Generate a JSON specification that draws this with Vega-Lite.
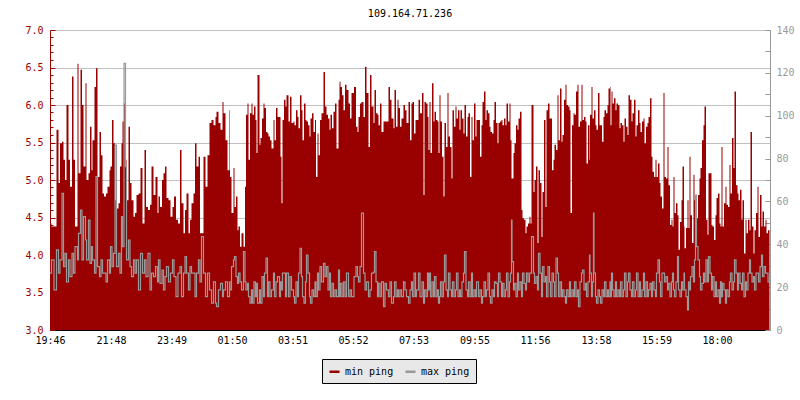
{
"$schema": "https://vega.github.io/schema/vega-lite/v6.json",
"width": 720, "height": 300,
"autosize": {"type": "none"},
"padding": {"left": 50, "top": 30, "right": 30, "bottom": 70},
"background": "white",
"title": {"text": "109.164.71.236", "font": "DejaVu Sans Mono", "fontSize": 10, "fontWeight": "normal", "color": "#000000", "anchor": "middle", "frame": "group", "offset": 6},
"data": {"values": [
{"t":0,"a":4.42,"b":26.5},{"t":3,"a":4.38,"b":32.7},{"t":8,"a":4.38,"b":18.7},{"t":13,"a":5.67,"b":37.4},{"t":17,"a":4.96,"b":26.5},{"t":20,"a":5.49,"b":32.7},{"t":24,"a":5.51,"b":63.8},{"t":27,"a":5.27,"b":29.6},{"t":30,"a":5.0,"b":35.8},{"t":33,"a":6.0,"b":22.5},{"t":37,"a":5.27,"b":32.7},{"t":40,"a":4.91,"b":24.9},{"t":44,"a":6.38,"b":35.8},{"t":47,"a":5.27,"b":26.5},{"t":50,"a":4.38,"b":38.9},{"t":55,"a":6.55,"b":32.7},{"t":57,"a":5.09,"b":45.1},{"t":61,"a":6.47,"b":56},{"t":64,"a":6.0,"b":32.7},{"t":67,"a":5.18,"b":52.9},{"t":71,"a":6.29,"b":42},{"t":73,"a":5.0,"b":32.7},{"t":77,"a":5.09,"b":51.3},{"t":80,"a":5.71,"b":31.1},{"t":83,"a":5.13,"b":38.9},{"t":85,"a":5.53,"b":32.7},{"t":89,"a":6.24,"b":26.5},{"t":92,"a":6.49,"b":71.6},{"t":95,"a":5.04,"b":29.6},{"t":99,"a":5.64,"b":24.9},{"t":102,"a":5.33,"b":32.7},{"t":105,"a":4.82,"b":26.5},{"t":108,"a":4.78,"b":26.5},{"t":112,"a":4.82,"b":22.5},{"t":115,"a":4.91,"b":32.7},{"t":119,"a":5.13,"b":26.5},{"t":121,"a":5.18,"b":38.9},{"t":124,"a":5.8,"b":29.6},{"t":127,"a":5.49,"b":35.8},{"t":130,"a":4.73,"b":86.3},{"t":133,"a":4.62,"b":29.6},{"t":137,"a":4.69,"b":35.8},{"t":140,"a":5.18,"b":26.5},{"t":143,"a":5.49,"b":52.9},{"t":145,"a":5.78,"b":38.9},{"t":148,"a":6.02,"b":124.4},{"t":151,"a":5.27,"b":76.2},{"t":153,"a":4.73,"b":32.7},{"t":157,"a":5.71,"b":42},{"t":160,"a":4.96,"b":29.6},{"t":163,"a":4.73,"b":24.9},{"t":167,"a":4.51,"b":32.7},{"t":170,"a":4.56,"b":26.5},{"t":173,"a":4.8,"b":32.7},{"t":177,"a":4.82,"b":18.7},{"t":181,"a":5.16,"b":35.8},{"t":185,"a":4.42,"b":26.5},{"t":189,"a":5.4,"b":32.7},{"t":192,"a":4.64,"b":24.9},{"t":196,"a":4.6,"b":35.8},{"t":200,"a":4.67,"b":18.7},{"t":203,"a":5.18,"b":26.5},{"t":207,"a":4.8,"b":24.9},{"t":211,"a":5.04,"b":29.6},{"t":215,"a":4.56,"b":22.5},{"t":217,"a":4.78,"b":32.7},{"t":220,"a":4.64,"b":21.8},{"t":224,"a":5.0,"b":28},{"t":227,"a":5.09,"b":18.7},{"t":230,"a":5.18,"b":24.9},{"t":233,"a":4.76,"b":29.6},{"t":237,"a":4.73,"b":22.5},{"t":241,"a":4.51,"b":26.5},{"t":245,"a":4.64,"b":32.7},{"t":248,"a":4.78,"b":24.9},{"t":252,"a":4.47,"b":15.6},{"t":256,"a":4.42,"b":26.5},{"t":260,"a":5.4,"b":29.6},{"t":263,"a":4.69,"b":15.6},{"t":267,"a":4.29,"b":26.5},{"t":270,"a":4.6,"b":34.2},{"t":273,"a":4.82,"b":26.5},{"t":277,"a":4.29,"b":18.7},{"t":280,"a":4.47,"b":29.6},{"t":283,"a":4.69,"b":26.5},{"t":287,"a":4.82,"b":26.5},{"t":290,"a":5.49,"b":15.6},{"t":293,"a":5.18,"b":26.5},{"t":297,"a":5.31,"b":32.7},{"t":300,"a":4.29,"b":22.5},{"t":303,"a":4.29,"b":43.6},{"t":307,"a":5.31,"b":26.5},{"t":311,"a":4.91,"b":15.6},{"t":315,"a":5.33,"b":26.5},{"t":319,"a":5.76,"b":18.7},{"t":323,"a":5.8,"b":12.5},{"t":327,"a":5.73,"b":22.5},{"t":331,"a":5.84,"b":12.5},{"t":333,"a":5.91,"b":10.9},{"t":337,"a":5.76,"b":18.7},{"t":341,"a":5.67,"b":21.8},{"t":345,"a":6.04,"b":15.6},{"t":347,"a":5.89,"b":18.7},{"t":351,"a":5.53,"b":22.5},{"t":355,"a":5.13,"b":15.6},{"t":359,"a":5.93,"b":22.5},
{"t":360,"a":5.04,"b":18.7},{"t":363,"a":4.56,"b":29.6},{"t":367,"a":5.16,"b":32.7},{"t":369,"a":4.64,"b":34.2},{"t":372,"a":4.78,"b":24.9},{"t":375,"a":4.33,"b":21.8},{"t":377,"a":4.38,"b":26.5},{"t":380,"a":4.11,"b":22.5},{"t":383,"a":4.29,"b":18.7},{"t":387,"a":4.11,"b":36.6},{"t":390,"a":4.91,"b":22.5},{"t":392,"a":5.87,"b":18.7},{"t":395,"a":6.02,"b":21.8},{"t":397,"a":5.27,"b":15.6},{"t":400,"a":5.89,"b":12.5},{"t":403,"a":6.02,"b":18.7},{"t":405,"a":5.87,"b":12.5},{"t":408,"a":5.98,"b":22.5},{"t":411,"a":5.8,"b":15.6},{"t":413,"a":5.36,"b":21.8},{"t":415,"a":6.4,"b":12.5},{"t":419,"a":5.47,"b":18.7},{"t":421,"a":5.56,"b":12.5},{"t":424,"a":5.82,"b":24.9},{"t":427,"a":6.02,"b":15.6},{"t":429,"a":5.96,"b":26.5},{"t":432,"a":5.64,"b":33.5},{"t":435,"a":5.62,"b":15.6},{"t":437,"a":5.58,"b":22.5},{"t":440,"a":5.53,"b":15.6},{"t":443,"a":5.42,"b":18.7},{"t":447,"a":5.8,"b":26.5},{"t":449,"a":5.53,"b":15.6},{"t":452,"a":5.96,"b":22.5},{"t":455,"a":5.84,"b":24.9},{"t":459,"a":5.84,"b":15.6},{"t":461,"a":5.31,"b":22.5},{"t":463,"a":4.69,"b":18.7},{"t":465,"a":5.8,"b":26.5},{"t":468,"a":6.07,"b":26.5},{"t":471,"a":5.98,"b":15.6},{"t":473,"a":6.13,"b":26.5},{"t":477,"a":5.78,"b":15.6},{"t":480,"a":6.11,"b":24.9},{"t":483,"a":5.76,"b":18.7},{"t":487,"a":5.78,"b":15.6},{"t":489,"a":5.73,"b":12.5},{"t":492,"a":5.93,"b":22.5},{"t":495,"a":5.84,"b":15.6},{"t":497,"a":5.69,"b":26.5},{"t":500,"a":6.13,"b":38.1},{"t":503,"a":5.93,"b":24.9},{"t":505,"a":5.53,"b":15.6},{"t":508,"a":6.02,"b":12.5},{"t":511,"a":5.8,"b":22.5},{"t":513,"a":5.78,"b":35.0},{"t":516,"a":5.73,"b":26.5},{"t":519,"a":5.58,"b":15.6},{"t":521,"a":5.82,"b":12.5},{"t":524,"a":5.89,"b":18.7},{"t":527,"a":5.64,"b":15.6},{"t":530,"a":5.8,"b":22.5},{"t":532,"a":5.04,"b":15.6},{"t":535,"a":5.62,"b":26.5},{"t":537,"a":5.33,"b":18.7},{"t":540,"a":5.8,"b":29.6},{"t":543,"a":5.89,"b":22.5},{"t":547,"a":6.44,"b":31.1},{"t":550,"a":5.98,"b":24.9},{"t":553,"a":5.87,"b":29.6},{"t":556,"a":5.82,"b":18.7},{"t":559,"a":5.67,"b":26.5},{"t":561,"a":5.87,"b":15.6},{"t":564,"a":5.69,"b":21.8},{"t":567,"a":5.91,"b":15.6},{"t":570,"a":6.02,"b":18.7},{"t":573,"a":5.42,"b":15.6},{"t":577,"a":6.07,"b":28},{"t":579,"a":6.31,"b":15.6},{"t":581,"a":6.24,"b":21.8},{"t":584,"a":6.13,"b":15.6},{"t":587,"a":5.93,"b":22.5},{"t":590,"a":6.27,"b":15.6},{"t":593,"a":6.2,"b":26.5},{"t":597,"a":6.02,"b":15.6},{"t":600,"a":5.82,"b":18.7},{"t":603,"a":6.16,"b":15.6},{"t":608,"a":6.24,"b":24.9},{"t":612,"a":5.71,"b":29.6},{"t":615,"a":5.64,"b":24.9},{"t":617,"a":5.84,"b":22.5},{"t":620,"a":6.02,"b":29.6},{"t":623,"a":6.04,"b":54.5},{"t":627,"a":5.84,"b":26.5},{"t":630,"a":6.51,"b":18.7},{"t":633,"a":6.16,"b":22.5},{"t":637,"a":5.44,"b":15.6},{"t":640,"a":6.4,"b":18.7},{"t":643,"a":5.98,"b":26.5},{"t":647,"a":5.76,"b":27},{"t":649,"a":6.2,"b":36.6},{"t":652,"a":5.89,"b":22.5},{"t":655,"a":5.87,"b":15.6},{"t":657,"a":5.73,"b":21.8},{"t":660,"a":6.02,"b":15.6},{"t":663,"a":5.64,"b":22.5},{"t":667,"a":5.78,"b":10.9},{"t":670,"a":5.78,"b":21.8},{"t":673,"a":5.78,"b":18.7},{"t":677,"a":6.24,"b":15.6},{"t":680,"a":6.07,"b":22.5},{"t":683,"a":5.82,"b":12.5},{"t":687,"a":5.69,"b":15.6},{"t":689,"a":6.2,"b":22.5},{"t":692,"a":5.71,"b":15.6},{"t":695,"a":6.07,"b":18.7},{"t":697,"a":5.96,"b":15.6},{"t":700,"a":5.71,"b":18.7},{"t":703,"a":5.82,"b":15.6},{"t":707,"a":6.0,"b":22.5},{"t":710,"a":5.93,"b":18.7},{"t":713,"a":5.76,"b":15.6},{"t":717,"a":6.04,"b":12.5},
{"t":720,"a":5.53,"b":18.7},{"t":723,"a":6.02,"b":22.5},{"t":725,"a":6.04,"b":15.6},{"t":728,"a":5.62,"b":26.5},{"t":731,"a":5.8,"b":15.6},{"t":733,"a":5.8,"b":18.7},{"t":737,"a":6.07,"b":26.5},{"t":740,"a":5.89,"b":15.6},{"t":744,"a":6.16,"b":22.5},{"t":747,"a":4.8,"b":12.5},{"t":749,"a":6.04,"b":18.7},{"t":752,"a":6.02,"b":15.6},{"t":755,"a":5.84,"b":26.5},{"t":757,"a":5.4,"b":18.7},{"t":759,"a":6.04,"b":26.5},{"t":761,"a":5.36,"b":15.6},{"t":764,"a":6.29,"b":22.5},{"t":767,"a":5.78,"b":15.6},{"t":769,"a":5.91,"b":24.9},{"t":772,"a":5.8,"b":15.6},{"t":775,"a":5.78,"b":18.7},{"t":777,"a":5.36,"b":12.5},{"t":779,"a":6.13,"b":15.6},{"t":781,"a":5.78,"b":22.5},{"t":784,"a":5.31,"b":15.6},{"t":787,"a":4.78,"b":22.5},{"t":789,"a":5.76,"b":35.0},{"t":792,"a":5.44,"b":18.7},{"t":795,"a":6.16,"b":15.6},{"t":797,"a":5.58,"b":26.5},{"t":800,"a":5.44,"b":18.7},{"t":803,"a":5.02,"b":15.6},{"t":805,"a":5.93,"b":22.5},{"t":808,"a":5.71,"b":15.6},{"t":811,"a":5.98,"b":18.7},{"t":813,"a":5.82,"b":26.5},{"t":816,"a":5.93,"b":15.6},{"t":819,"a":5.67,"b":18.7},{"t":821,"a":5.93,"b":15.6},{"t":824,"a":5.82,"b":22.5},{"t":827,"a":5.62,"b":26.5},{"t":829,"a":6.0,"b":36.6},{"t":832,"a":5.58,"b":18.7},{"t":835,"a":5.84,"b":15.6},{"t":837,"a":5.89,"b":22.5},{"t":840,"a":5.04,"b":15.6},{"t":843,"a":5.84,"b":26.5},{"t":845,"a":5.53,"b":15.6},{"t":848,"a":6.02,"b":18.7},{"t":851,"a":5.58,"b":15.6},{"t":853,"a":5.8,"b":22.5},{"t":857,"a":5.8,"b":15.6},{"t":860,"a":5.31,"b":18.7},{"t":863,"a":5.73,"b":12.5},{"t":865,"a":6.04,"b":15.6},{"t":868,"a":6.18,"b":22.5},{"t":871,"a":5.8,"b":15.6},{"t":873,"a":5.93,"b":18.7},{"t":876,"a":5.89,"b":26.5},{"t":879,"a":5.71,"b":15.6},{"t":881,"a":5.64,"b":12.5},{"t":884,"a":5.62,"b":18.7},{"t":887,"a":5.8,"b":15.6},{"t":889,"a":6.04,"b":22.5},{"t":892,"a":5.76,"b":21.8},{"t":895,"a":5.49,"b":15.6},{"t":897,"a":5.76,"b":26.5},{"t":900,"a":5.78,"b":22.5},{"t":903,"a":5.8,"b":15.6},{"t":905,"a":5.73,"b":21.8},{"t":908,"a":5.82,"b":15.6},{"t":911,"a":5.73,"b":18.7},{"t":913,"a":6.02,"b":26.5},{"t":916,"a":5.78,"b":15.6},{"t":919,"a":6.02,"b":22.5},{"t":921,"a":5.53,"b":26.5},{"t":923,"a":5.02,"b":51.3},{"t":924,"a":5.02,"b":31.9},{"t":927,"a":5.36,"b":18.7},{"t":929,"a":5.49,"b":21.8},{"t":932,"a":5.73,"b":15.6},{"t":935,"a":5.67,"b":26.5},{"t":937,"a":5.82,"b":18.7},{"t":940,"a":5.91,"b":22.5},{"t":943,"a":4.6,"b":15.6},{"t":945,"a":4.49,"b":26.5},{"t":948,"a":4.47,"b":21.8},{"t":951,"a":4.29,"b":18.7},{"t":953,"a":4.38,"b":26.5},{"t":956,"a":4.42,"b":22.5},{"t":959,"a":4.51,"b":26.5},{"t":961,"a":4.42,"b":26.5},{"t":963,"a":6.0,"b":43.6},{"t":967,"a":4.84,"b":26.5},{"t":969,"a":5.0,"b":21.8},{"t":972,"a":5.18,"b":24.9},{"t":975,"a":4.16,"b":18.7},{"t":977,"a":5.13,"b":35.8},{"t":980,"a":4.96,"b":26.5},{"t":983,"a":4.24,"b":15.6},{"t":985,"a":4.84,"b":29.6},{"t":988,"a":5.8,"b":22.5},{"t":991,"a":4.64,"b":24.9},{"t":993,"a":5.93,"b":15.6},{"t":996,"a":6.02,"b":29.6},{"t":999,"a":5.82,"b":22.5},{"t":1001,"a":5.82,"b":15.6},{"t":1004,"a":5.13,"b":26.5},{"t":1007,"a":5.27,"b":22.5},{"t":1009,"a":5.47,"b":15.6},{"t":1012,"a":5.4,"b":33.5},{"t":1015,"a":6.13,"b":26.5},{"t":1017,"a":5.53,"b":15.6},{"t":1020,"a":6.22,"b":22.5},{"t":1023,"a":5.51,"b":15.6},{"t":1025,"a":5.6,"b":18.7},{"t":1028,"a":6.07,"b":15.6},{"t":1031,"a":6.27,"b":12.5},{"t":1033,"a":6.0,"b":18.7},{"t":1036,"a":5.98,"b":15.6},{"t":1039,"a":5.93,"b":22.5},{"t":1041,"a":4.56,"b":15.6},{"t":1044,"a":5.73,"b":18.7},{"t":1047,"a":5.89,"b":15.6},{"t":1049,"a":5.87,"b":22.5},{"t":1052,"a":6.18,"b":15.6},{"t":1055,"a":6.27,"b":18.7},{"t":1057,"a":5.71,"b":10.9},{"t":1060,"a":5.78,"b":22.5},{"t":1063,"a":6.27,"b":26.5},{"t":1065,"a":5.8,"b":28},{"t":1068,"a":5.84,"b":18.7},{"t":1071,"a":5.78,"b":21.8},{"t":1073,"a":5.22,"b":15.6},{"t":1076,"a":5.73,"b":22.5},{"t":1079,"a":5.27,"b":35.0},
{"t":1080,"a":5.87,"b":26.5},{"t":1083,"a":6.24,"b":15.6},{"t":1085,"a":5.82,"b":22.5},{"t":1087,"a":5.82,"b":54.5},{"t":1088,"a":5.93,"b":26.5},{"t":1091,"a":5.73,"b":15.6},{"t":1093,"a":5.67,"b":12.5},{"t":1096,"a":6.16,"b":18.7},{"t":1099,"a":5.73,"b":15.6},{"t":1101,"a":5.73,"b":12.5},{"t":1104,"a":5.51,"b":18.7},{"t":1107,"a":5.84,"b":15.6},{"t":1109,"a":5.93,"b":22.5},{"t":1112,"a":5.89,"b":15.6},{"t":1115,"a":6.0,"b":18.7},{"t":1117,"a":6.22,"b":15.6},{"t":1120,"a":6.24,"b":22.5},{"t":1121,"a":5.73,"b":15.6},{"t":1123,"a":6.18,"b":26.5},{"t":1125,"a":6.02,"b":18.7},{"t":1128,"a":6.09,"b":15.6},{"t":1131,"a":5.93,"b":22.5},{"t":1133,"a":6.02,"b":15.6},{"t":1136,"a":6.0,"b":18.7},{"t":1139,"a":5.69,"b":15.6},{"t":1141,"a":5.76,"b":22.5},{"t":1144,"a":5.73,"b":15.6},{"t":1147,"a":5.51,"b":18.7},{"t":1149,"a":5.82,"b":26.5},{"t":1152,"a":5.71,"b":15.6},{"t":1155,"a":5.6,"b":22.5},{"t":1157,"a":6.13,"b":26.5},{"t":1160,"a":6.07,"b":18.7},{"t":1163,"a":5.78,"b":15.6},{"t":1165,"a":5.89,"b":22.5},{"t":1168,"a":6.07,"b":15.6},{"t":1171,"a":5.58,"b":18.7},{"t":1173,"a":5.73,"b":26.5},{"t":1176,"a":5.93,"b":15.6},{"t":1179,"a":5.76,"b":22.5},{"t":1181,"a":5.64,"b":15.6},{"t":1184,"a":5.78,"b":18.7},{"t":1187,"a":5.82,"b":26.5},{"t":1189,"a":5.49,"b":15.6},{"t":1192,"a":5.71,"b":22.5},{"t":1195,"a":5.76,"b":15.6},{"t":1197,"a":5.84,"b":18.7},{"t":1200,"a":6.09,"b":21.8},{"t":1203,"a":5.31,"b":15.6},{"t":1205,"a":5.11,"b":22.5},{"t":1208,"a":5.04,"b":18.7},{"t":1211,"a":5.27,"b":15.6},{"t":1213,"a":5.04,"b":26.5},{"t":1216,"a":5.22,"b":32.7},{"t":1219,"a":4.96,"b":22.5},{"t":1221,"a":4.78,"b":15.6},{"t":1224,"a":4.62,"b":26.5},{"t":1227,"a":6.16,"b":26.5},{"t":1229,"a":5.04,"b":22.5},{"t":1232,"a":5.02,"b":24.9},{"t":1235,"a":5.44,"b":18.7},{"t":1237,"a":4.93,"b":21.8},{"t":1240,"a":4.4,"b":15.6},{"t":1243,"a":4.47,"b":22.5},{"t":1245,"a":4.38,"b":26.5},{"t":1247,"a":5.04,"b":18.7},{"t":1249,"a":4.56,"b":15.6},{"t":1252,"a":4.69,"b":22.5},{"t":1255,"a":4.53,"b":34.2},{"t":1257,"a":4.07,"b":18.7},{"t":1260,"a":4.44,"b":15.6},{"t":1263,"a":4.73,"b":22.5},{"t":1265,"a":5.18,"b":18.7},{"t":1268,"a":4.38,"b":26.5},{"t":1269,"a":4.09,"b":18.7},{"t":1272,"a":4.36,"b":15.6},{"t":1275,"a":4.73,"b":9.4},{"t":1277,"a":4.36,"b":22.5},{"t":1279,"a":5.31,"b":18.7},{"t":1281,"a":4.53,"b":24.9},{"t":1284,"a":4.16,"b":29.6},{"t":1287,"a":5.07,"b":22.5},{"t":1289,"a":4.73,"b":32.7},{"t":1291,"a":4.73,"b":63.0},{"t":1293,"a":4.49,"b":38.9},{"t":1296,"a":4.8,"b":32.7},{"t":1299,"a":5.02,"b":24.9},{"t":1301,"a":5.16,"b":18.7},{"t":1304,"a":5.53,"b":21.8},{"t":1307,"a":5.73,"b":26.5},{"t":1309,"a":5.98,"b":22.5},{"t":1312,"a":4.47,"b":32.7},{"t":1315,"a":4.27,"b":22.5},{"t":1317,"a":5.09,"b":34.2},{"t":1320,"a":5.09,"b":26.5},{"t":1323,"a":4.4,"b":18.7},{"t":1325,"a":4.38,"b":24.9},{"t":1328,"a":4.2,"b":15.6},{"t":1331,"a":4.53,"b":22.5},{"t":1333,"a":4.76,"b":15.6},{"t":1336,"a":4.82,"b":18.7},{"t":1339,"a":4.42,"b":12.5},{"t":1341,"a":4.38,"b":22.5},{"t":1343,"a":5.44,"b":15.6},{"t":1345,"a":4.38,"b":21.8},{"t":1348,"a":4.69,"b":18.7},{"t":1351,"a":4.91,"b":12.5},{"t":1353,"a":4.67,"b":18.7},{"t":1356,"a":4.64,"b":15.6},{"t":1359,"a":5.2,"b":22.5},{"t":1361,"a":4.82,"b":26.5},{"t":1364,"a":5.56,"b":18.7},{"t":1367,"a":5.16,"b":22.5},{"t":1369,"a":6.18,"b":32.7},{"t":1372,"a":4.93,"b":26.5},{"t":1375,"a":4.82,"b":18.7},{"t":1377,"a":4.73,"b":26.5},{"t":1380,"a":4.87,"b":21.8},{"t":1383,"a":4.47,"b":18.7},{"t":1385,"a":4.73,"b":26.5},{"t":1388,"a":4.02,"b":15.6},{"t":1391,"a":4.47,"b":22.5},{"t":1393,"a":4.29,"b":18.7},{"t":1396,"a":4.47,"b":26.5},{"t":1399,"a":4.33,"b":32.7},{"t":1401,"a":5.64,"b":26.5},{"t":1404,"a":4.38,"b":22.5},{"t":1407,"a":4.02,"b":24.9},{"t":1409,"a":4.33,"b":18.7},{"t":1412,"a":4.56,"b":26.5},{"t":1415,"a":4.91,"b":26.5},{"t":1417,"a":4.24,"b":22.5},{"t":1420,"a":4.8,"b":29.6},{"t":1423,"a":4.38,"b":35.0},{"t":1425,"a":4.58,"b":24.9},{"t":1428,"a":4.38,"b":29.6},{"t":1431,"a":4.47,"b":26.5},{"t":1433,"a":4.29,"b":26.5},{"t":1436,"a":4.33,"b":22.5},{"t":1439,"a":4.47,"b":24.9}
]},
"encoding": {
  "x": {"field": "t", "type": "quantitative",
    "scale": {"domain": [0, 1440], "nice": false, "zero": false},
    "axis": {"title": null, "grid": false, "values": [0,122,243,364,485,606,727,849,970,1092,1213,1334],
      "labelExpr": "timeFormat(datetime(2020,0,1,19,46+datum.value),'%H:%M')",
      "domainColor": "#000000", "tickColor": "#000000", "tickSize": -5, "labelColor": "#000000",
      "labelPadding": 10, "labelFlush": false, "labelOverlap": false}}
},
"layer": [
  {"mark": {"type": "area", "interpolate": "step-after", "clip": true},
   "encoding": {
     "y": {"field": "a", "type": "quantitative",
       "scale": {"domain": [3, 7], "nice": false, "zero": false},
       "axis": {"orient": "left", "title": null,
         "values": [3.0,3.1,3.2,3.3,3.4,3.5,3.6,3.7,3.8,3.9,4.0,4.1,4.2,4.3,4.4,4.5,4.6,4.7,4.8,4.9,5.0,5.1,5.2,5.3,5.4,5.5,5.6,5.7,5.8,5.9,6.0,6.1,6.2,6.3,6.4,6.5,6.6,6.7,6.8,6.9,7.0],
         "labelExpr": "abs(datum.value*2-round(datum.value*2))<0.01 ? format(datum.value,'.1f') : ''",
         "domainColor": "#990000", "tickColor": "#990000", "labelColor": "#990000",
         "tickSize": {"condition": {"test": "abs(datum.value*2-round(datum.value*2))<0.01", "value": -5}, "value": -3},
         "grid": true, "gridColor": "#c0c0c0",
         "gridOpacity": {"condition": {"test": "abs(datum.value*2-round(datum.value*2))<0.01", "value": 1}, "value": 0},
         "labelPadding": 12, "labelFlush": false, "labelOverlap": false}},
     "y2": {"datum": 3},
     "color": {"datum": "min ping", "type": "nominal",
       "scale": {"domain": ["min ping", "max ping"], "range": ["#990000", "#999999"]},
       "legend": {"orient": "none", "legendX": 272, "legendY": 329, "direction": "horizontal", "title": null,
         "fillColor": "#e8e8e8", "strokeColor": "#000000", "padding": 6,
         "symbolType": "stroke", "symbolSize": 100, "symbolStrokeWidth": 2.5,
         "labelFont": "DejaVu Sans Mono", "labelFontSize": 10, "labelColor": "#000000",
         "labelOffset": 4, "columnPadding": 6,
         "labelExpr": "datum.label == 'max ping' ? datum.label + '   ' : datum.label",
         "encode": {"symbols": {"update": {"stroke": {"scale": "color", "field": "value"}, "strokeWidth": {"value": 2.5}}},
                    "labels": {"update": {"fill": {"value": "#000000"}}}}}}
   }},
  {"mark": {"type": "line", "interpolate": "step-after", "strokeWidth": 1.2, "clip": true},
   "encoding": {
     "y": {"field": "b", "type": "quantitative",
       "scale": {"domain": [0, 140], "nice": false, "zero": true},
       "axis": {"orient": "right", "title": null,
         "values": [0,10,20,30,40,50,60,70,80,90,100,110,120,130,140],
         "labelExpr": "datum.value % 20 == 0 ? datum.label : ''",
         "domainColor": "#999999", "tickColor": "#999999", "labelColor": "#999999",
         "tickSize": -5, "grid": false, "labelPadding": 11, "labelFlush": false, "labelOverlap": false}},
     "color": {"datum": "max ping", "type": "nominal"}
   }}
],
"resolve": {"scale": {"y": "independent"}},
"config": {
  "view": {"stroke": null},
  "axis": {"labelFont": "DejaVu Sans Mono", "labelFontSize": 10, "domainWidth": 1, "tickWidth": 1}
}
}
